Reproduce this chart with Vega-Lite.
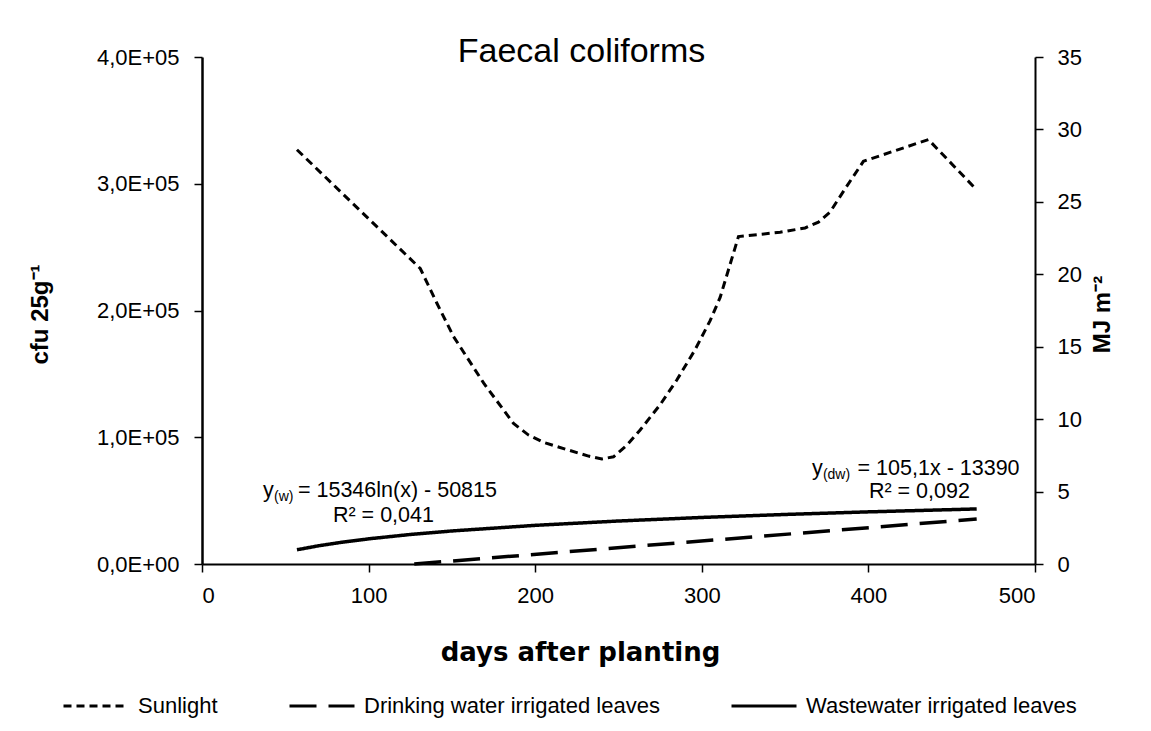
{
  "$schema": "https://vega.github.io/schema/vega-lite/v6.json",
  "width": 833,
  "height": 507,
  "autosize": {"type": "none"},
  "padding": {"left": 202, "top": 57, "right": 116, "bottom": 167},
  "background": "white",
  "title": {
    "text": "Faecal coliforms",
    "font": "Liberation Sans",
    "fontSize": 34,
    "fontWeight": "normal",
    "color": "black",
    "anchor": "middle",
    "frame": "group",
    "baseline": "alphabetic",
    "offset": 0,
    "dx": -37,
    "dy": 50
  },
  "config": {
    "view": {"stroke": null},
    "font": "Liberation Sans",
    "axis": {
      "grid": false,
      "domainColor": "black",
      "tickColor": "black",
      "labelColor": "black",
      "titleColor": "black",
      "labelFont": "Liberation Sans",
      "titleFont": "Liberation Sans"
    }
  },
  "datasets": {
    "trend": [
      {"series": "Drinking water irrigated leaves", "day": 127.4, "cfu": 0},
      {"series": "Drinking water irrigated leaves", "day": 465, "cfu": 35482},
      {"series": "Wastewater irrigated leaves", "day": 57, "cfu": 11231},
      {"series": "Wastewater irrigated leaves", "day": 70, "cfu": 14382},
      {"series": "Wastewater irrigated leaves", "day": 85, "cfu": 17363},
      {"series": "Wastewater irrigated leaves", "day": 100, "cfu": 19856},
      {"series": "Wastewater irrigated leaves", "day": 125, "cfu": 23280},
      {"series": "Wastewater irrigated leaves", "day": 150, "cfu": 26078},
      {"series": "Wastewater irrigated leaves", "day": 200, "cfu": 30493},
      {"series": "Wastewater irrigated leaves", "day": 250, "cfu": 33918},
      {"series": "Wastewater irrigated leaves", "day": 300, "cfu": 36715},
      {"series": "Wastewater irrigated leaves", "day": 350, "cfu": 39081},
      {"series": "Wastewater irrigated leaves", "day": 400, "cfu": 41131},
      {"series": "Wastewater irrigated leaves", "day": 465, "cfu": 43441}
    ],
    "sun": [
      {"series": "Sunlight", "day": 57, "mj": 28.6},
      {"series": "Sunlight", "day": 131, "mj": 20.4},
      {"series": "Sunlight", "day": 141, "mj": 18.0},
      {"series": "Sunlight", "day": 151, "mj": 15.7},
      {"series": "Sunlight", "day": 169, "mj": 12.5},
      {"series": "Sunlight", "day": 187, "mj": 9.7},
      {"series": "Sunlight", "day": 196, "mj": 8.9},
      {"series": "Sunlight", "day": 205, "mj": 8.4},
      {"series": "Sunlight", "day": 219, "mj": 7.9},
      {"series": "Sunlight", "day": 232, "mj": 7.45},
      {"series": "Sunlight", "day": 240, "mj": 7.25},
      {"series": "Sunlight", "day": 247, "mj": 7.4},
      {"series": "Sunlight", "day": 255, "mj": 8.2},
      {"series": "Sunlight", "day": 263, "mj": 9.25},
      {"series": "Sunlight", "day": 275, "mj": 11.0},
      {"series": "Sunlight", "day": 285, "mj": 12.7},
      {"series": "Sunlight", "day": 296, "mj": 14.8},
      {"series": "Sunlight", "day": 305, "mj": 16.8},
      {"series": "Sunlight", "day": 311, "mj": 18.4},
      {"series": "Sunlight", "day": 322, "mj": 22.6},
      {"series": "Sunlight", "day": 347, "mj": 22.9},
      {"series": "Sunlight", "day": 362, "mj": 23.2},
      {"series": "Sunlight", "day": 370, "mj": 23.6},
      {"series": "Sunlight", "day": 377, "mj": 24.3},
      {"series": "Sunlight", "day": 386, "mj": 25.9},
      {"series": "Sunlight", "day": 397, "mj": 27.8},
      {"series": "Sunlight", "day": 436, "mj": 29.3},
      {"series": "Sunlight", "day": 464, "mj": 25.95}
    ],
    "notes": [
      {"day": 36.6, "cfu": 52860, "text": "y"},
      {"day": 57.6, "cfu": 52860, "text": "= 15346ln(x) - 50815"},
      {"day": 78.6, "cfu": 33140, "text": "R² = 0,041"},
      {"day": 366.1, "cfu": 70220, "text": "y"},
      {"day": 393.5, "cfu": 70220, "text": "= 105,1x - 13390"},
      {"day": 400.3, "cfu": 52070, "text": "R² = 0,092"}
    ],
    "subs": [
      {"day": 43.2, "cfu": 49700, "text": "(w)"},
      {"day": 372.7, "cfu": 67060, "text": "(dw)"}
    ]
  },
  "layer": [
    {
      "layer": [
        {
          "data": {"name": "trend"},
          "mark": {"type": "line", "color": "black", "strokeWidth": 3.5, "strokeCap": "butt"},
          "encoding": {
            "x": {
              "field": "day",
              "type": "quantitative",
              "scale": {"domain": [0, 500], "nice": false},
              "axis": {
                "values": [0, 100, 200, 300, 400, 500],
                "title": "days after planting",
                "titleFont": "DejaVu Sans",
                "titleFontSize": 26,
                "titleFontWeight": "bold",
                "titleX": 378,
                "titleY": 96,
                "titleAlign": "center",
                "titleBaseline": "alphabetic",
                "labelFontSize": 22,
                "labelPadding": 13,
                "domainWidth": 2,
                "tickWidth": 1.5,
                "tickSize": 8
              }
            },
            "y": {
              "field": "cfu",
              "type": "quantitative",
              "scale": {"domain": [0, 400000], "nice": false},
              "axis": {
                "orient": "left",
                "values": [0, 100000, 200000, 300000, 400000],
                "labelExpr": "datum.value == 0 ? '0,0E+00' : replace(format(datum.value / 100000, '.1f'), '.', ',') + 'E+05'",
                "labelFontSize": 22,
                "labelPadding": 15,
                "domainWidth": 2.5,
                "tickWidth": 1.5,
                "tickSize": 8,
                "title": "cfu 25g⁻¹",
                "titleFontSize": 24,
                "titleFontWeight": "bold",
                "titleAngle": -90,
                "titleX": -162,
                "titleY": 257,
                "titleAlign": "center",
                "titleBaseline": "middle"
              }
            },
            "strokeDash": {
              "field": "series",
              "type": "nominal",
              "scale": {
                "domain": ["Sunlight", "Drinking water irrigated leaves", "Wastewater irrigated leaves"],
                "range": [[8, 5], [27, 12], [1, 0]]
              },
              "legend": {
                "title": null,
                "orient": "none",
                "direction": "horizontal",
                "legendX": -140,
                "legendY": 615,
                "symbolType": "stroke",
                "symbolSize": 4225,
                "symbolStrokeWidth": 3,
                "symbolStrokeColor": "black",
                "labelFontSize": 22,
                "labelColor": "black",
                "labelFont": "Liberation Sans",
                "labelOffset": 8,
                "labelLimit": 0,
                "columnPadding": 65
              }
            }
          }
        },
        {
          "data": {"name": "notes"},
          "mark": {"type": "text", "align": "left", "baseline": "alphabetic", "fontSize": 21.5, "color": "black", "font": "Liberation Sans"},
          "encoding": {
            "x": {"field": "day", "type": "quantitative"},
            "y": {"field": "cfu", "type": "quantitative"},
            "text": {"field": "text"}
          }
        },
        {
          "data": {"name": "subs"},
          "mark": {"type": "text", "align": "left", "baseline": "alphabetic", "fontSize": 14, "color": "black", "font": "Liberation Sans"},
          "encoding": {
            "x": {"field": "day", "type": "quantitative"},
            "y": {"field": "cfu", "type": "quantitative"},
            "text": {"field": "text"}
          }
        }
      ]
    },
    {
      "data": {"name": "sun"},
      "mark": {"type": "line", "color": "black", "strokeWidth": 3, "strokeCap": "butt"},
      "encoding": {
        "x": {"field": "day", "type": "quantitative"},
        "y": {
          "field": "mj",
          "type": "quantitative",
          "scale": {"domain": [0, 35], "nice": false},
          "axis": {
            "orient": "right",
            "values": [0, 5, 10, 15, 20, 25, 30, 35],
            "labelFontSize": 22,
            "labelPadding": 14,
            "domainWidth": 2,
            "tickWidth": 1.5,
            "tickSize": 8,
            "title": "MJ m⁻²",
            "titleFontSize": 24,
            "titleFontWeight": "bold",
            "titleAngle": -90,
            "titleX": 67,
            "titleY": 257,
            "titleAlign": "center",
            "titleBaseline": "middle"
          }
        },
        "strokeDash": {"field": "series", "type": "nominal"}
      }
    }
  ],
  "resolve": {"scale": {"y": "independent"}}
}
